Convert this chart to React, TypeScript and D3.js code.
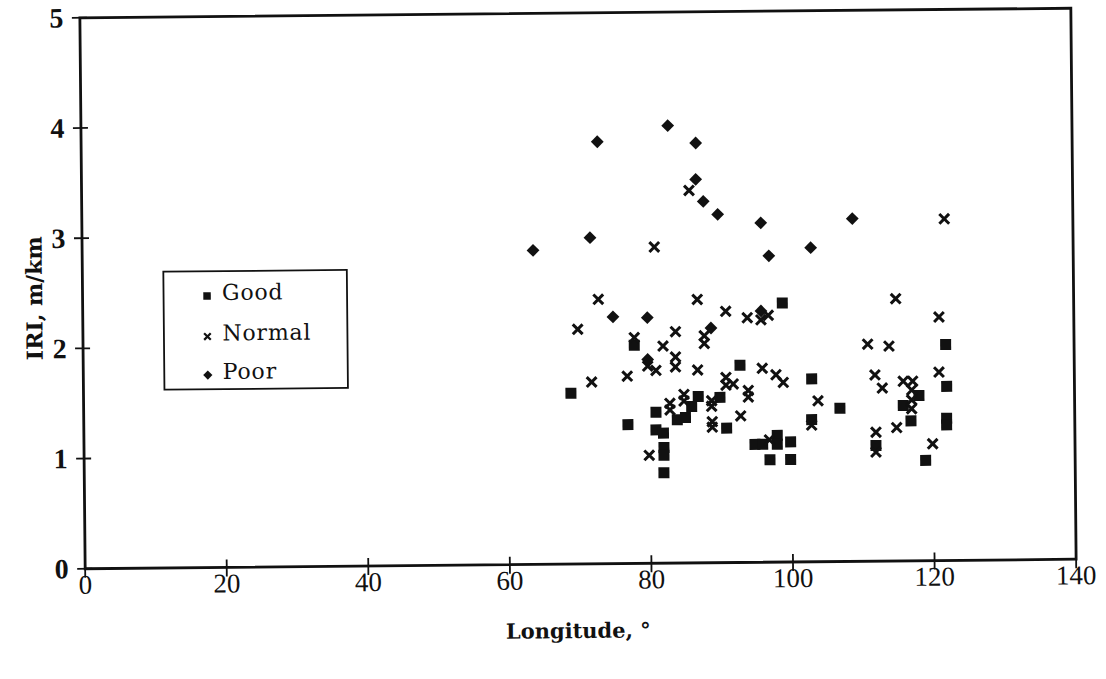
import React from 'react';
import * as d3 from 'd3';

// ---- data (Longitude, IRI) ----
const goodX = [68.86, 77.87, 76.87, 80.85, 80.82, 81.88, 81.93, 81.92, 81.89, 83.85, 85.01, 85.9, 86.84, 89.91, 90.81, 92.78, 94.79, 95.88, 97.95, 97.94, 99.83, 96.89, 99.81, 98.84, 102.89, 102.83, 106.84, 121.86, 121.95, 118.02, 115.79, 116.86, 121.9, 121.89, 111.88, 118.88];
const goodY = [1.55, 1.98, 1.26, 1.37, 1.21, 1.18, 1.05, 0.98, 0.82, 1.3, 1.32, 1.42, 1.51, 1.5, 1.22, 1.79, 1.07, 1.07, 1.15, 1.07, 1.09, 0.93, 0.93, 2.35, 1.66, 1.29, 1.39, 1.96, 1.58, 1.5, 1.41, 1.27, 1.29, 1.23, 1.05, 0.91];

const normalX = [72.85, 69.9, 83.71, 77.88, 81.93, 79.74, 80.9, 83.68, 83.66, 76.84, 71.8, 82.83, 82.83, 79.84, 86.83, 90.83, 93.87, 95.8, 96.84, 87.77, 87.76, 86.79, 95.92, 97.85, 98.87, 90.78, 90.77, 91.8, 93.92, 93.91, 84.83, 84.82, 88.73, 88.72, 103.75, 88.79, 88.78, 92.81, 102.82, 96.84, 85.81, 80.83, 121.83, 114.86, 120.95, 110.84, 113.85, 120.88, 111.83, 112.85, 115.82, 117.15, 117.0, 116.98, 116.97, 114.83, 111.9, 111.87, 119.89];
const normalY = [2.4, 2.13, 2.1, 2.05, 1.97, 1.79, 1.75, 1.87, 1.78, 1.7, 1.65, 1.45, 1.39, 0.98, 2.39, 2.28, 2.22, 2.2, 2.24, 2.06, 1.99, 1.75, 1.76, 1.7, 1.63, 1.68, 1.61, 1.62, 1.56, 1.5, 1.53, 1.47, 1.47, 1.42, 1.46, 1.28, 1.23, 1.33, 1.24, 1.11, 3.38, 2.87, 3.1, 2.38, 2.21, 1.97, 1.95, 1.71, 1.69, 1.57, 1.63, 1.63, 1.55, 1.46, 1.38, 1.21, 1.17, 0.99, 1.06];

const poorX = [72.92, 82.89, 86.82, 86.77, 87.81, 89.83, 71.76, 74.9, 79.75, 79.75, 88.73, 95.82, 108.84, 102.92, 63.7, 95.9, 97.0];
const poorY = [3.83, 3.97, 3.81, 3.48, 3.28, 3.16, 2.96, 2.24, 2.23, 1.85, 2.13, 2.28, 3.11, 2.85, 2.85, 3.08, 2.78];

const xTicks = [0, 20, 40, 60, 80, 100, 120, 140];
const yTicks = [0, 1, 2, 3, 4, 5];
const legendLabels = ['Good', 'Normal', 'Poor'];
const xTitle = 'Longitude, \u00b0';
const yTitle = 'IRI, m/km';

const W = 1106;
const H = 679;
const M = { left: 82.5, right: 1073.5, top: 13, bottom: 564 };
const TILT = -0.55;
const CX = 578;
const CY = 288.5;

const squarePath = (s: number) => `M${-s / 2},${-s / 2}h${s}v${s}h${-s}Z`;
const diamondPath = (r: number) => `M0,${-r}L${r},0L0,${r}L${-r},0Z`;
const crossPath = (r: number) => `M${-r},${-r}L${r},${r}M${-r},${r}L${r},${-r}`;

export default function App() {
  const x = d3.scaleLinear().domain([0, 140]).range([M.left, M.right]);
  const y = d3.scaleLinear().domain([0, 5]).range([M.bottom, M.top]);

  const good = goodX.map((v, i) => [v, goodY[i]]);
  const normal = normalX.map((v, i) => [v, normalY[i]]);
  const poor = poorX.map((v, i) => [v, poorY[i]]);

  const legY = [292.5, 333, 371.5];

  return (
    <svg width={W} height={H} style={{ position: 'absolute', left: 0, top: 0, background: '#fff' }}>
      <rect width={W} height={H} fill="#fff" />
      <g transform={`rotate(${TILT},${CX},${CY})`}>
        {/* frame */}
        <rect x={M.left} y={M.top} width={M.right - M.left} height={M.bottom - M.top} fill="none" stroke="#111" strokeWidth={2.8} />
        {/* y ticks */}
        {yTicks.map((t) => (
          <g key={'y' + t}>
            <line x1={M.left - 8} x2={M.left + 7} y1={y(t)} y2={y(t)} stroke="#111" strokeWidth={1.8} />
            <text x={59} y={y(t) + 9.5} textAnchor="middle" fontFamily="Liberation Serif" fontWeight="bold" fontSize={28} fill="#111">{t}</text>
          </g>
        ))}
        {/* x ticks */}
        {xTicks.map((t) => (
          <g key={'x' + t}>
            <line x1={x(t)} x2={x(t)} y1={M.bottom - 8} y2={M.bottom + 9} stroke="#111" strokeWidth={1.8} />
            <text x={x(t)} y={589} textAnchor="middle" fontFamily="Liberation Serif" fontSize={27} fill="#111">{t}</text>
          </g>
        ))}
        {/* titles */}
        <text x={575} y={638} textAnchor="middle" fontFamily="DejaVu Serif" fontWeight="bold" fontSize={21} fill="#111">{xTitle}</text>
        <text transform={`translate(42,293) rotate(-90)`} textAnchor="middle" fontFamily="DejaVu Serif" fontWeight="bold" fontSize={22} fill="#111">{yTitle}</text>

        {/* data */}
        {good.map((d, i) => (
          <path key={'g' + i} d={squarePath(11)} transform={`translate(${x(d[0])},${y(d[1])})`} fill="#111" />
        ))}
        {normal.map((d, i) => (
          <path key={'n' + i} d={crossPath(4.9)} transform={`translate(${x(d[0])},${y(d[1])})`} fill="none" stroke="#111" strokeWidth={3} />
        ))}
        {poor.map((d, i) => (
          <path key={'p' + i} d={diamondPath(6.4)} transform={`translate(${x(d[0])},${y(d[1])})`} fill="#111" />
        ))}

        {/* legend */}
        <rect x={163.5} y={267.7} width={183.5} height={118} fill="#fff" stroke="#111" strokeWidth={1.8} />
        {legendLabels.map((l, i) => (
          <g key={l}>
            {i === 0 && <path d={squarePath(7.5)} transform={`translate(207,${legY[i]})`} fill="#111" />}
            {i === 1 && <path d={crossPath(3.3)} transform={`translate(207,${legY[i]})`} fill="none" stroke="#111" strokeWidth={2.2} />}
            {i === 2 && <path d={diamondPath(4.6)} transform={`translate(207,${legY[i]})`} fill="#111" />}
            <text x={222} y={legY[i] + 4} fontFamily="DejaVu Serif" fontSize={22} letterSpacing={0.8} fill="#111">{l}</text>
          </g>
        ))}
      </g>
    </svg>
  );
}
